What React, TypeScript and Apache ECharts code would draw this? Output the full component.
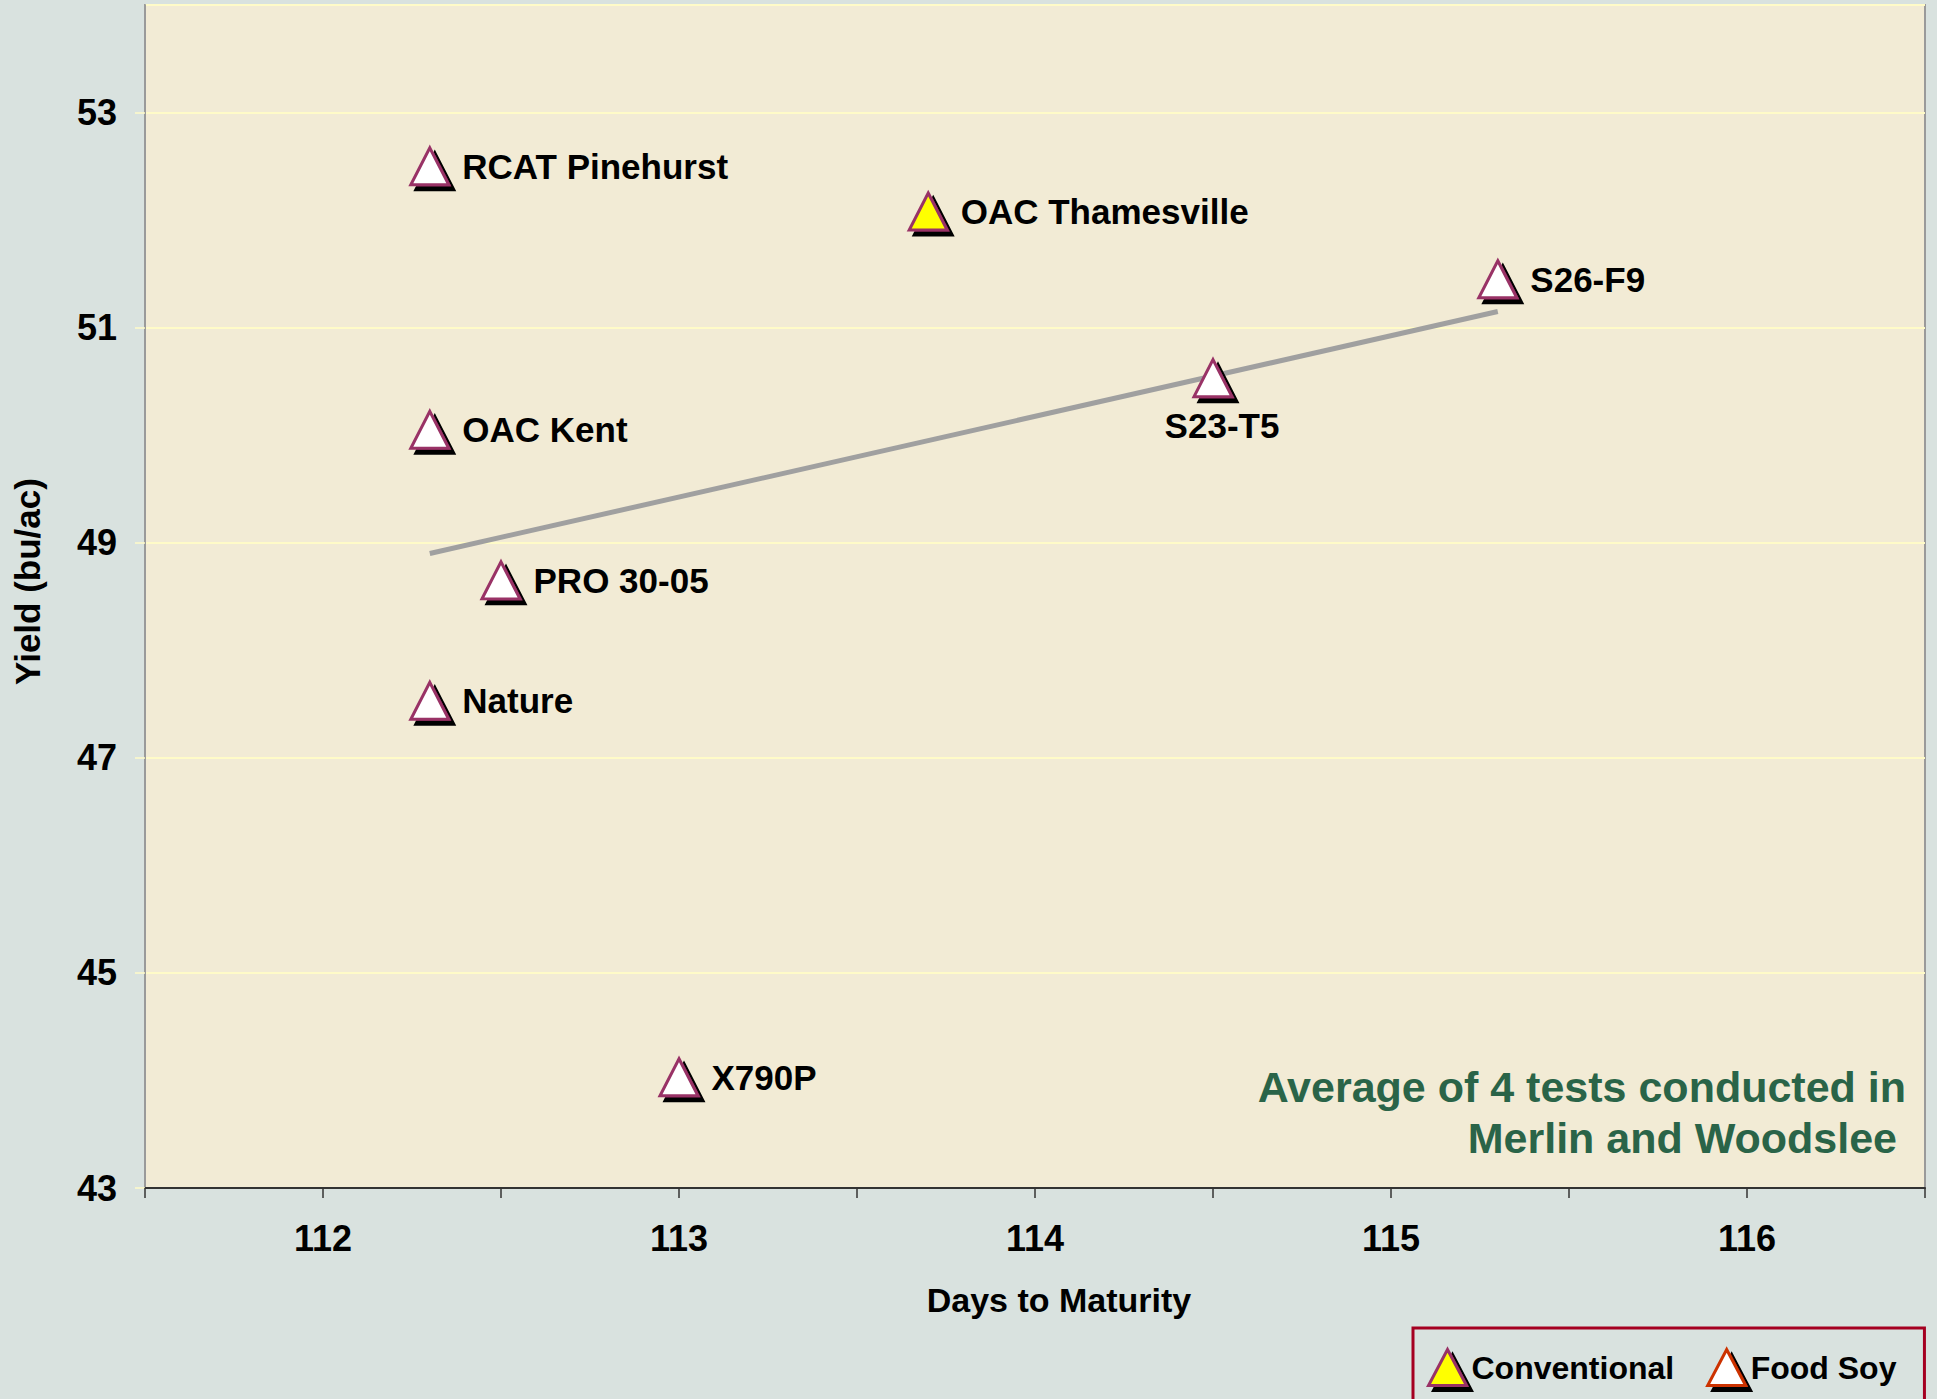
import React, { useEffect, useRef } from "react";
import * as echarts from "echarts";

// ---- data ----
const conventionalNames = ["OAC Thamesville"];
const conventionalDays = [113.7];
const conventionalYield = [52.08];

const foodSoyNames = ["RCAT Pinehurst", "S26-F9", "S23-T5", "OAC Kent", "PRO 30-05", "Nature", "X790P"];
const foodSoyDays = [112.3, 115.3, 114.5, 112.3, 112.5, 112.3, 113.0];
const foodSoyYield = [52.5, 51.45, 50.53, 50.05, 48.65, 47.53, 44.03];
const labelBelow = ["S23-T5"];

const trendDays = [112.3, 115.3];
const trendYield = [48.9, 51.15];

const xTicks = [112, 113, 114, 115, 116];
const yTicks = [43, 45, 47, 49, 51, 53];

const FONT = 'Arial, "Liberation Sans", sans-serif';

export default function App() {
  const ref = useRef<HTMLDivElement>(null);
  useEffect(() => {
    document.body.style.margin = "0";
    document.body.style.overflow = "hidden";
    const chart = echarts.init(ref.current!, null, { renderer: "svg" });
    const markerStyle = (fill: string) => ({
      color: fill,
      borderColor: "#993366",
      borderWidth: 3,
      shadowColor: "#000000",
      shadowBlur: 0,
      shadowOffsetX: 5,
      shadowOffsetY: 5,
      opacity: 1,
    });
    const labelStyle = {
      show: true,
      fontFamily: FONT,
      fontSize: 35,
      fontWeight: "bold" as const,
      color: "#000000",
    };
    const mkData = (names: string[], xs: number[], ys: number[]) =>
      names.map((n, i) => {
        const below = labelBelow.includes(n);
        return {
          name: n,
          value: [xs[i], ys[i]],
          label: {
            ...labelStyle,
            formatter: n,
            position: below ? "bottom" : "right",
            distance: below ? 10 : 12,
            offset: below ? [9, 0] : [0, 0],
          },
        };
      });

    chart.setOption({
      animation: false,
      backgroundColor: "#d9e2df",
      textStyle: { fontFamily: FONT },
      grid: {
        left: 145,
        right: 12,
        top: 5,
        bottom: 211,
        show: true,
        backgroundColor: "#f2ebd5",
        borderColor: "#9a9a9a",
        borderWidth: 2,
      },
      xAxis: {
        type: "value",
        min: 111.5,
        max: 116.5,
        interval: 0.5,
        name: "Days to Maturity",
        nameLocation: "middle",
        nameGap: 95,
        nameTextStyle: {
          fontFamily: FONT,
          fontSize: 34,
          fontWeight: "bold",
          color: "#000",
          padding: [0, 0, 0, 48],
        },
        axisLine: { show: true, lineStyle: { color: "#333333", width: 2 } },
        axisTick: { show: true, inside: false, length: 10, lineStyle: { color: "#333333", width: 1.5 } },
        axisLabel: {
          margin: 32,
          fontFamily: FONT,
          fontSize: 36,
          fontWeight: "bold",
          color: "#000",
          formatter: (v: number) => (xTicks.includes(v) ? String(v) : ""),
        },
        splitLine: { show: false },
      },
      yAxis: {
        type: "value",
        min: 43,
        max: 54,
        interval: 2,
        name: "Yield (bu/ac)",
        nameLocation: "middle",
        nameGap: 100,
        nameTextStyle: {
          fontFamily: FONT,
          fontSize: 35,
          fontWeight: "bold",
          color: "#000",
          padding: [0, 0, 0, 30],
        },
        axisLine: { show: true, lineStyle: { color: "#9a9a9a", width: 2 } },
        axisTick: { show: true, length: 10, lineStyle: { color: "#fffbc8", width: 1.5 } },
        axisLabel: {
          margin: 28,
          fontFamily: FONT,
          fontSize: 36,
          fontWeight: "bold",
          color: "#000",
          showMaxLabel: false,
          formatter: (v: number) => (yTicks.includes(v) ? String(v) : ""),
        },
        splitLine: { show: true, lineStyle: { color: "#fffbc8", width: 2 } },
      },
      legend: {
        left: 1413,
        top: 1328,
        orient: "horizontal",
        backgroundColor: "#d9e2df",
        borderColor: "#a50021",
        borderWidth: 3,
        padding: [20, 28, 40, 14],
        itemWidth: 38,
        itemHeight: 36,
        itemGap: 32,
        textStyle: { fontFamily: FONT, fontSize: 32, fontWeight: "bold", color: "#000", padding: [0, 0, 0, 0] },
        data: [
          { name: "Conventional", icon: "triangle", itemStyle: { ...markerStyle("#ffff00") } },
          {
            name: "Food Soy",
            icon: "triangle",
            itemStyle: { ...markerStyle("#ffffff"), borderColor: "#cc3300" },
          },
        ],
      },
      series: [
        {
          name: "Trend",
          type: "line",
          data: trendDays.map((d, i) => [d, trendYield[i]]),
          symbol: "none",
          lineStyle: { color: "#a0a0a0", width: 5 },
          silent: true,
          z: 1,
        },
        {
          name: "Food Soy",
          type: "scatter",
          symbol: "triangle",
          symbolSize: [38, 37],
          itemStyle: markerStyle("#ffffff"),
          data: mkData(foodSoyNames, foodSoyDays, foodSoyYield),
          z: 3,
        },
        {
          name: "Conventional",
          type: "scatter",
          symbol: "triangle",
          symbolSize: [38, 37],
          itemStyle: markerStyle("#ffff00"),
          data: mkData(conventionalNames, conventionalDays, conventionalYield),
          z: 3,
        },
      ],
      graphic: [
        {
          type: "text",
          right: 31,
          top: 1065,
          style: {
            text: "Average of 4 tests conducted in",
            fontFamily: FONT,
            fontSize: 43,
            fontWeight: "bold",
            fill: "#2a6448",
          },
        },
        {
          type: "text",
          right: 40,
          top: 1116,
          style: {
            text: "Merlin and Woodslee",
            fontFamily: FONT,
            fontSize: 43,
            fontWeight: "bold",
            fill: "#2a6448",
          },
        },
      ],
    });
    return () => chart.dispose();
  }, []);
  return <div ref={ref} style={{ width: 1937, height: 1399 }} />;
}
